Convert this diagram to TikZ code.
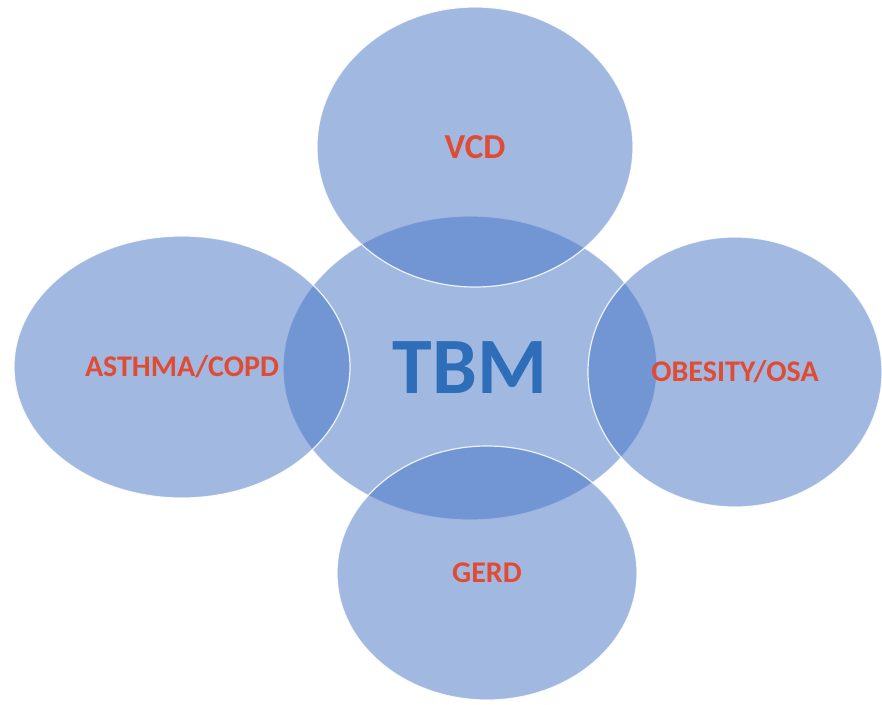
\documentclass[tikz,border=0pt]{standalone}
\usepackage{fontspec}
\setmainfont{Carlito}
\usepackage{tikz}
\usetikzlibrary{shapes.geometric}

\definecolor{bubblefill}{HTML}{4472C4}
\definecolor{labelred}{HTML}{E04B34}
\definecolor{tbmblue}{HTML}{2E6EB9}

\begin{document}
\begin{tikzpicture}[x=1pt, y=-1pt]
\tikzset{font=\bfseries}
\tikzset{bubble/.style={ellipse, inner sep=0pt, fill=bubblefill, fill opacity=0.5, draw=white, draw opacity=0.85, line width=1.2pt, text opacity=1}}
\tikzset{outer/.style={bubble, text=labelred, font=\bfseries\fontsize{30}{36}\selectfont}}
\useasboundingbox (0,0) rectangle (882,704);
% middle bubble first, the four around it overlap on top
\node[bubble, minimum width=374pt, minimum height=304pt, text=tbmblue, font=\bfseries\fontsize{80}{96}\selectfont] (tbm) at (470,368) {TBM};
\node[outer, minimum width=316pt, minimum height=280pt, font=\bfseries\fontsize{35}{42}\selectfont] (vcd) at (475,147) {VCD};
\node[outer, minimum width=336pt, minimum height=262pt] (asthma) at (182,367) {ASTHMA/COPD};
\node[outer, minimum width=294pt, minimum height=270pt] (obesity) at (735,372) {OBESITY/OSA};
\node[outer, minimum width=300pt, minimum height=254pt] (gerd) at (487,573) {GERD};
\end{tikzpicture}
\end{document}
